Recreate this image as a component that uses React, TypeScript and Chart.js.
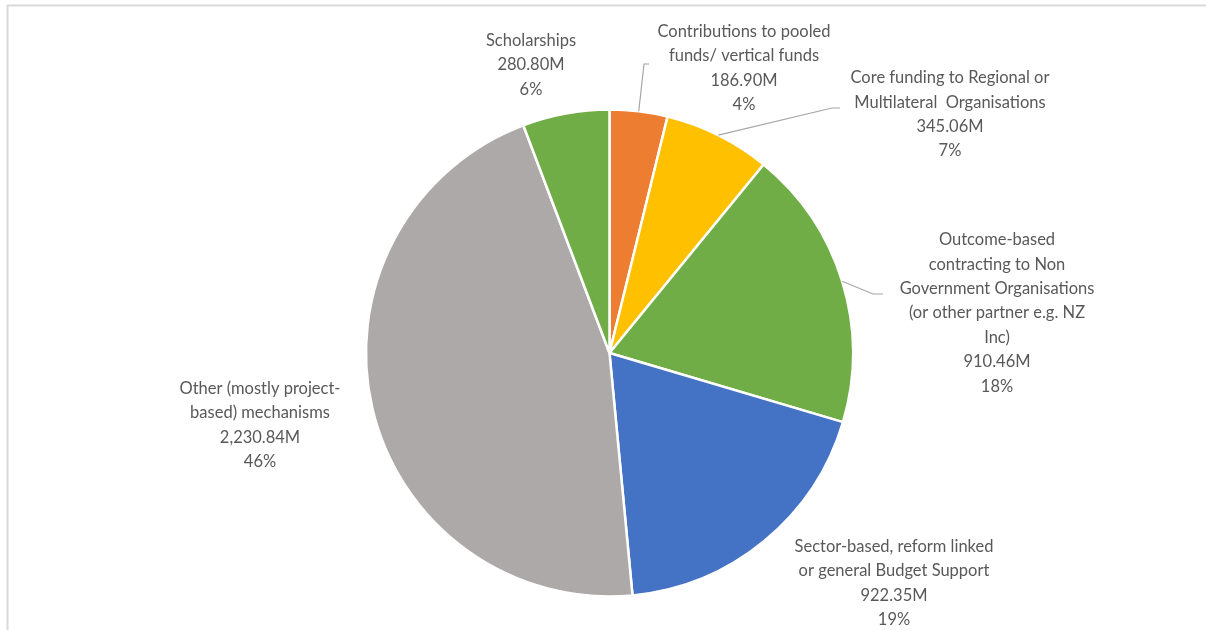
import React, { useEffect, useRef } from "react";
import { Chart, registerables } from "chart.js";

Chart.register(...registerables);

const categories: string[] = [
  "Contributions to pooled funds/ vertical funds",
  "Core funding to Regional or Multilateral Organisations",
  "Outcome-based contracting to Non Government Organisations (or other partner e.g. NZ Inc)",
  "Sector-based, reform linked or general Budget Support",
  "Other (mostly project-based) mechanisms",
  "Scholarships",
];

const values: number[] = [186.9, 345.06, 910.46, 922.35, 2230.84, 280.8];

const valueLabels: string[] = ["186.90M", "345.06M", "910.46M", "922.35M", "2,230.84M", "280.80M"];
const percentLabels: string[] = ["4%", "7%", "18%", "19%", "46%", "6%"];

const nameLines: string[][] = [
  ["Contributions to pooled", "funds/ vertical funds"],
  ["Core funding to Regional or", "Multilateral  Organisations"],
  ["Outcome-based", "contracting to Non", "Government Organisations", "(or other partner e.g. NZ", "Inc)"],
  ["Sector-based, reform linked", "or general Budget Support"],
  ["Other (mostly project-", "based) mechanisms"],
  ["Scholarships"],
];

const colors: string[] = ["#ED7D31", "#FFC000", "#70AD47", "#4472C4", "#ADA9A9", "#70AD47"];

// label layout (block centres, absolute px) and optional leader-line elbows
const labelLayout = [
  { cx: 744, cy: 68, elbow: [644, 64, 649] },
  { cx: 950, cy: 114.5, elbow: [832, 108, 840] },
  { cx: 997, cy: 313, elbow: [873, 294, 883] },
  { cx: 894, cy: 583, elbow: null },
  { cx: 260, cy: 425, elbow: null },
  { cx: 531, cy: 65, elbow: null },
];

const FONT = '16.5px Lato, "Open Sans", sans-serif';
const LINE_H = 24.4;

const labelsPlugin = {
  id: "customLabels",
  beforeDraw(chart: any) {
    const ctx = chart.ctx;
    ctx.save();
    ctx.fillStyle = "#ffffff";
    ctx.fillRect(0, 0, chart.width, chart.height);
    ctx.strokeStyle = "#D9D9D9";
    ctx.lineWidth = 2;
    ctx.beginPath();
    ctx.moveTo(7.5, chart.height);
    ctx.lineTo(7.5, 5.5);
    ctx.lineTo(chart.width, 5.5);
    ctx.stroke();
    ctx.restore();
  },
  afterDraw(chart: any) {
    const ctx = chart.ctx;
    const meta = chart.getDatasetMeta(0);
    ctx.save();
    ctx.font = FONT;
    ctx.fillStyle = "#595959";
    ctx.textAlign = "center";
    ctx.textBaseline = "middle";
    meta.data.forEach((arc: any, i: number) => {
      const lines = [...nameLines[i], valueLabels[i], percentLabels[i]];
      const lay = labelLayout[i];
      const top = lay.cy - ((lines.length - 1) * LINE_H) / 2;
      lines.forEach((t, k) => ctx.fillText(t, lay.cx, top + k * LINE_H));
      if (lay.elbow) {
        const mid = (arc.startAngle + arc.endAngle) / 2;
        const x0 = arc.x + Math.cos(mid) * arc.outerRadius;
        const y0 = arc.y + Math.sin(mid) * arc.outerRadius;
        ctx.strokeStyle = "#A6A6A6";
        ctx.lineWidth = 1.2;
        ctx.beginPath();
        ctx.moveTo(x0, y0);
        ctx.lineTo(lay.elbow[0], lay.elbow[1]);
        ctx.lineTo(lay.elbow[2], lay.elbow[1]);
        ctx.stroke();
      }
    });
    ctx.restore();
  },
};

export default function App() {
  const ref = useRef<HTMLCanvasElement | null>(null);
  useEffect(() => {
    if (!ref.current) return;
    const chart = new Chart(ref.current, {
      type: "pie",
      data: {
        labels: categories,
        datasets: [
          {
            data: values,
            backgroundColor: colors,
            borderColor: "#ffffff",
            borderWidth: 2.5,
          },
        ],
      },
      options: {
        responsive: false,
        animation: false,
        radius: 243.5,
        layout: { padding: { left: 100, right: 87, top: 100, bottom: 24 } },
        plugins: {
          legend: { display: false },
          tooltip: { enabled: false },
        },
      },
      plugins: [labelsPlugin],
    });
    return () => chart.destroy();
  }, []);
  return (
    <div style={{ position: "absolute", left: 0, top: 0, width: 1206, height: 630 }}>
      <canvas ref={ref} width={1206} height={630} style={{ display: "block" }} />
    </div>
  );
}
